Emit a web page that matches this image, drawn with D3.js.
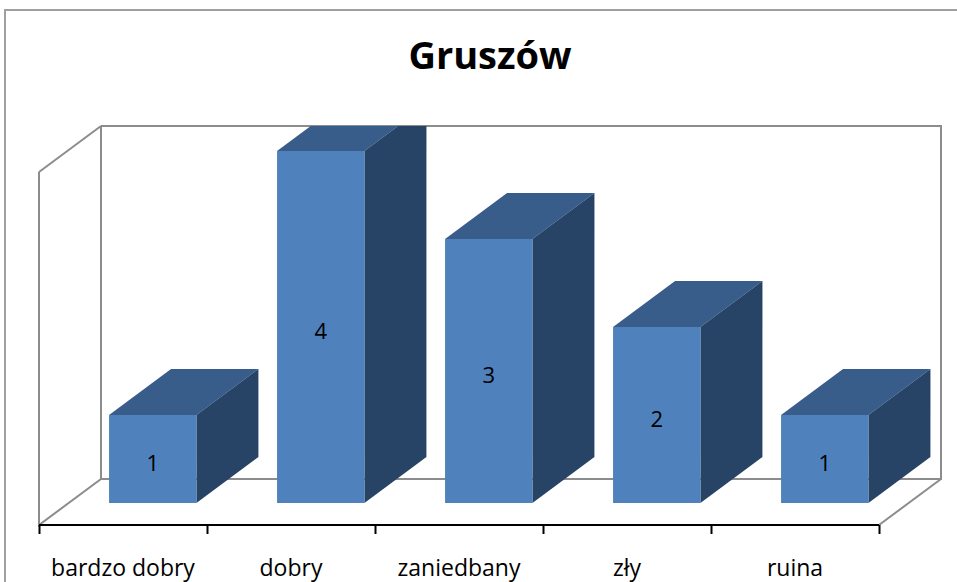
<!DOCTYPE html>
<meta charset="utf-8">
<style>
body { margin: 0; background: #fff; }
.title { font: bold 38px "Open Sans", sans-serif; text-anchor: middle; }
.cat { font: 23px "Open Sans", sans-serif; text-anchor: middle; }
.val { font: 22px "Open Sans", sans-serif; text-anchor: middle; }
.wall { fill: none; stroke: #8c8c8c; stroke-width: 2px; }
</style>
<svg width="957" height="582"></svg>
<script src="https://d3js.org/d3.v7.min.js"></script>
<script>

var categories = ["bardzo dobry", "dobry", "zaniedbany", "zły", "ruina"],
    values = [1, 4, 3, 2, 1],
    yTicks = [0, 1, 2, 3, 4];

var svg = d3.select("svg"),
    left = 39, right = 879,
    depthX = 62, depthY = -46;

// outer chart border (runs off the bottom and right of the picture)
svg.append("rect")
    .attr("x", 5).attr("y", 10)
    .attr("width", 1000).attr("height", 700)
    .attr("fill", "none")
    .attr("stroke", "#a0a0a0")
    .attr("stroke-width", 2);

svg.append("text")
    .attr("class", "title")
    .attr("x", 490).attr("y", 69)
    .text("Gruszów");

var x = d3.scaleBand()
    .domain(categories)
    .range([left, right]);

// front plane of the box and the plane where bars stand
var yFront = d3.scaleLinear().domain([0, d3.max(yTicks)]).range([525, 172]),
    yBar = d3.scaleLinear().domain([0, d3.max(yTicks)]).range([503, 151]);

var top0 = yFront(4), bot0 = yFront(0);

// walls and floor
var walls = [
  [[left + depthX, top0 + depthY], [right + depthX, top0 + depthY], [right + depthX, bot0 + depthY], [left + depthX, bot0 + depthY], [left + depthX, top0 + depthY]],
  [[left, top0], [left + depthX, top0 + depthY]],
  [[left, top0], [left, bot0], [left + depthX, bot0 + depthY]],
  [[right, bot0], [right + depthX, bot0 + depthY]]
];

svg.selectAll("path.wall")
  .data(walls)
  .enter().append("path")
    .attr("class", "wall")
    .attr("d", d3.line());

// category axis
svg.append("g")
    .attr("transform", "translate(0," + bot0 + ")")
    .call(d3.axisBottom(d3.scaleLinear().domain([0, categories.length]).range([left, right]))
      .ticks(categories.length)
      .tickSize(9)
      .tickFormat(""))
    .call(function(g) {
      g.select(".domain").attr("stroke", "#000").attr("stroke-width", 2).attr("d", "M" + left + ",0H" + right);
      g.selectAll(".tick line").attr("stroke", "#000").attr("stroke-width", 2);
    });

svg.selectAll("text.cat")
  .data(categories)
  .enter().append("text")
    .attr("class", "cat")
    .attr("x", function(d) { return x(d) + x.bandwidth() / 2; })
    .attr("y", 576)
    .text(function(d) { return d; });

// bars clipped at the top of the back wall
svg.append("clipPath").attr("id", "plot")
  .append("rect")
    .attr("x", 0).attr("y", top0 + depthY)
    .attr("width", 957).attr("height", 582);

var bw = x.bandwidth() * 0.52,
    off = x.bandwidth() * 0.417;

var bars = svg.append("g").attr("clip-path", "url(#plot)")
  .selectAll("g")
  .data(categories)
  .enter().append("g");

function x0(i) { return x(categories[i]) + off; }

bars.append("path")
    .attr("fill", "#385D8A")
    .attr("d", function(d, i) {
      var a = x0(i), t = yBar(values[i]);
      return d3.line()([[a, t], [a + bw, t], [a + bw + depthX, t + depthY], [a + depthX, t + depthY]]);
    });

bars.append("path")
    .attr("fill", "#274366")
    .attr("d", function(d, i) {
      var a = x0(i) + bw, t = yBar(values[i]), b = yBar(0);
      return d3.line()([[a, t], [a + depthX, t + depthY], [a + depthX, b + depthY], [a, b]]);
    });

bars.append("rect")
    .attr("fill", "#4F81BD")
    .attr("x", function(d, i) { return x0(i); })
    .attr("y", function(d, i) { return yBar(values[i]); })
    .attr("width", bw)
    .attr("height", function(d, i) { return yBar(0) - yBar(values[i]); });

svg.selectAll("text.val")
  .data(values)
  .enter().append("text")
    .attr("class", "val")
    .attr("x", function(d, i) { return x0(i) + bw / 2; })
    .attr("y", function(d) { return (yBar(d) + yBar(0)) / 2 + 12; })
    .text(function(d) { return d; });

</script>
